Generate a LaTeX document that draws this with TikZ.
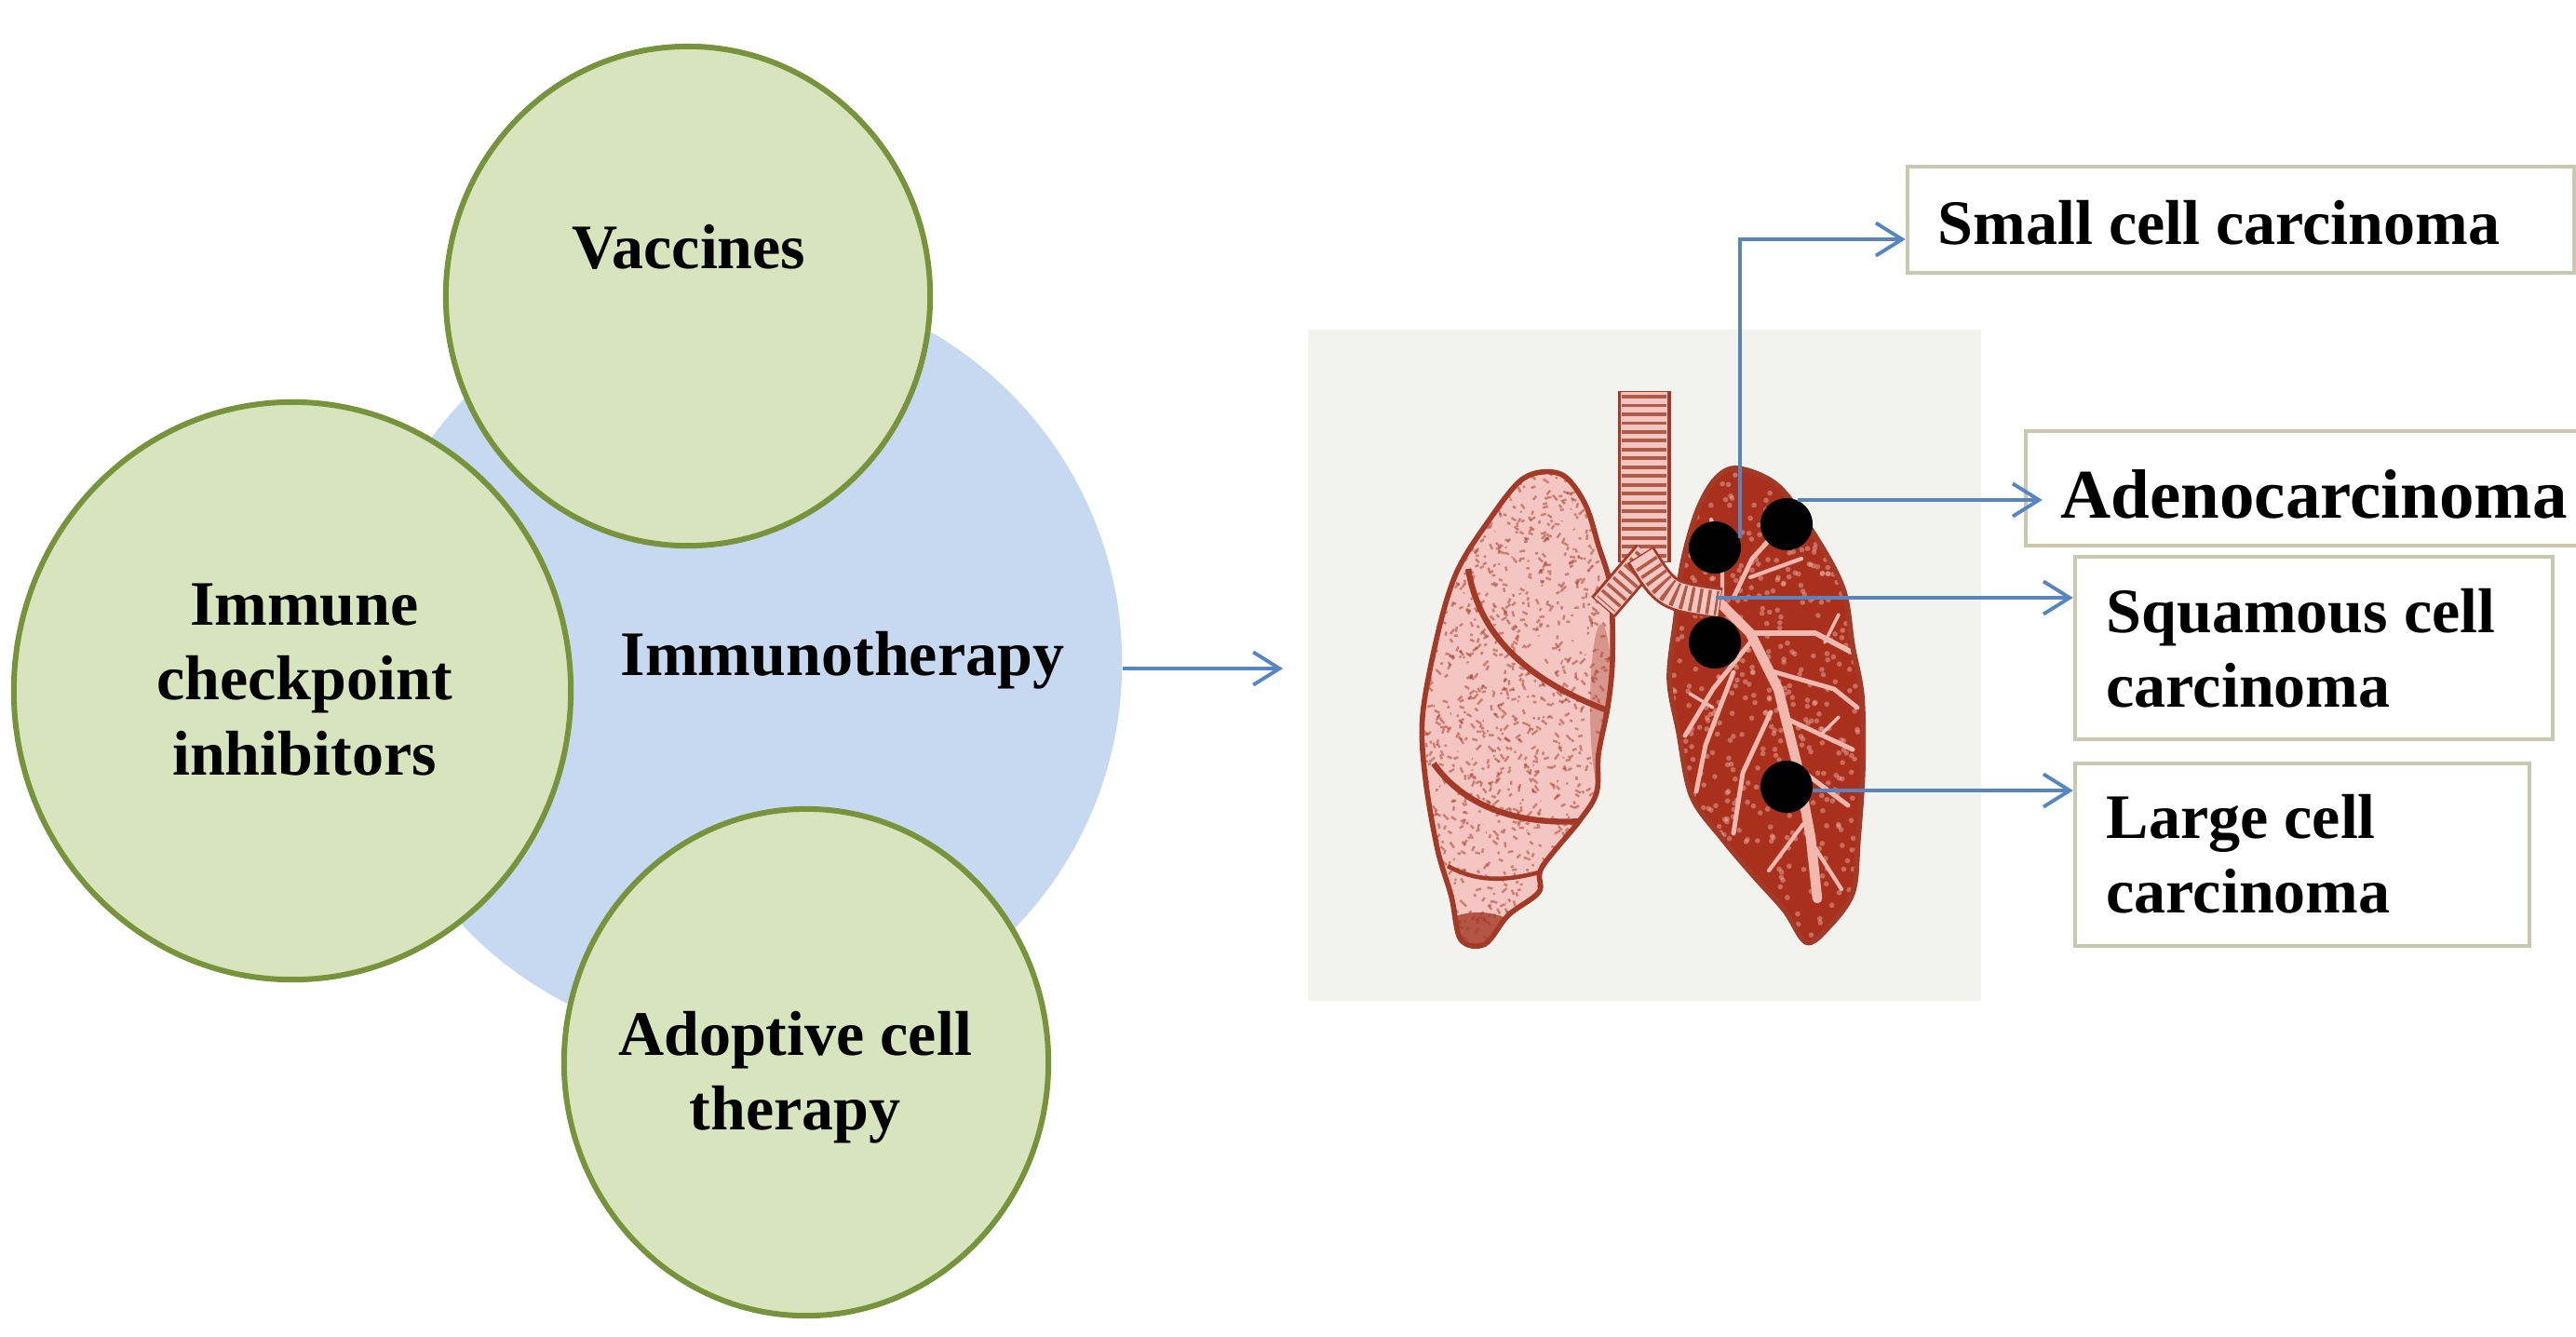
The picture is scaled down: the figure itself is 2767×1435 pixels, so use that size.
\documentclass[tikz,border=0pt]{standalone}
\usepackage{fontspec}
\setmainfont{Liberation Serif}
\usetikzlibrary{shapes.geometric,arrows.meta}
\definecolor{greenfill}{HTML}{D7E4BD}
\definecolor{greenline}{HTML}{77933C}
\definecolor{bluefill}{HTML}{C6D9F1}
\definecolor{connblue}{HTML}{5586C2}
\definecolor{boxline}{HTML}{C8C8B0}
\definecolor{panelbg}{HTML}{F2F2EE}
\definecolor{lungpink}{HTML}{F4C6C1}
\definecolor{lungdark}{HTML}{A33A28}
\definecolor{lungred}{HTML}{A8301C}
\definecolor{branchpink}{HTML}{F1B8AE}
\definecolor{ringdark}{HTML}{B05A48}
\tikzset{
  greenc/.style={ellipse, draw=greenline, fill=greenfill, line width=1.7pt, inner sep=0pt},
  mainlbl/.style={font=\fontsize{19.35}{22.8}\selectfont\bfseries, inner sep=0pt, align=center},
  boxlbl/.style={font=\fontsize{19.35}{22.8}\selectfont\bfseries, inner sep=0pt, align=left},
  tbox/.style={draw=boxline, line width=1.2pt, fill=white, inner sep=0pt},
  tumor/.style={circle, fill=black, minimum size=0.56cm, inner sep=0pt},
  conn/.style={draw=connblue, line width=1.1pt, -{Straight Barb[length=8pt,width=10pt]}},
  lungline/.style={draw=lungdark, line width=1.6pt},
}
\begin{document}
\begin{tikzpicture}[x=0.01cm,y=-0.01cm]
\useasboundingbox (0,0) rectangle (2767,1435);
\fill[white] (0,0) rectangle (2767,1435);

% ---------- left part ----------
\node[circle, fill=bluefill, minimum size=8.2cm, inner sep=0pt] (blue) at (795,712) {};
\node[greenc, minimum width=5.2cm, minimum height=5.36cm] (vac) at (739,318) {};
\node[greenc, minimum width=5.98cm, minimum height=6.2cm] (ici) at (314,742) {};
\node[greenc, minimum width=5.2cm, minimum height=5.44cm] (act) at (866,1141) {};

\node[mainlbl] (vacT) at (740,265) {Vaccines};
\node[mainlbl] (iciT) at (327,730) {Immune\\checkpoint\\inhibitors};
\node[mainlbl] (actT) at (854,1157) {Adoptive cell\\therapy};
\node[mainlbl, anchor=base] (immT) at (905,725) {Immunotherapy};

\coordinate (arrowend) at (1378,718);
\draw[conn] (blue.east |- arrowend) -- (arrowend);

% ---------- lung picture ----------
\node[fill=panelbg, minimum width=7.23cm, minimum height=7.21cm, inner sep=0pt] (panel) at (1766.5,714.5) {};

\def\lungL{plot[smooth cycle, tension=0.55] coordinates {(1636,514) (1676,509) (1702,540) (1717,586) (1730,632) (1732,708) (1727,759) (1717,810) (1715,851) (1697,881) (1656,932) (1653,958) (1620,983) (1595,1014) (1569,1009) (1559,963) (1544,912) (1531,836) (1528,769) (1544,682) (1564,616) (1595,565)}}
\def\lungR{plot[smooth cycle, tension=0.55] coordinates {(1867,503) (1910,522) (1950,576) (1980,633) (1990,694) (2000,748) (2001,825) (1996,901) (1990,959) (1963,997) (1940,1012) (1917,978) (1883,940) (1850,901) (1817,855) (1803,786) (1793,729) (1800,664) (1807,606) (1823,549) (1843,514)}}

% left lung
\fill[lungpink] \lungL;
\begin{scope}
  \clip \lungL;
  \pgfmathsetseed{7}
  \foreach \i in {1,...,1300}{
    \pgfmathsetmacro\px{1520+215*rnd}
    \pgfmathsetmacro\py{500+520*rnd}
    \pgfmathsetmacro\dx{6*rand}
    \pgfmathsetmacro\dy{6*rand}
    \draw[lungdark, opacity=0.5, line width=0.7pt] (\px,\py) -- ++(\dx,\dy);
  }
  \fill[lungdark, opacity=0.8] (1588,1005) ellipse [x radius=0.45cm, y radius=0.25cm];
  \fill[lungdark, opacity=0.35] (1720,760) ellipse [x radius=0.12cm, y radius=0.9cm];
  \draw[lungdark, line width=1.8pt] (1577,611) .. controls (1590,690) and (1650,735) .. (1732,765);
  \draw[lungdark, line width=1.8pt] (1540,820) .. controls (1575,870) and (1640,890) .. (1720,880);
  \draw[lungdark, line width=1.3pt] (1555,930) .. controls (1590,950) and (1625,945) .. (1660,935);
\end{scope}
\draw[lungline] \lungL;

% right lung
\fill[lungred] \lungR;
\begin{scope}
  \clip \lungR;
  \pgfmathsetseed{11}
  \foreach \i in {1,...,600}{
    \pgfmathsetmacro\px{1790+215*rnd}
    \pgfmathsetmacro\py{500+520*rnd}
    \fill[branchpink, opacity=0.45] (\px,\py) circle (0.8pt);
  }
  \begin{scope}[branchpink, line cap=round, line join=round]
    \draw[line width=3pt] (1845,645) -- (1880,680) -- (1910,740) -- (1930,820) -- (1945,900) -- (1952,965);
    \draw[line width=1.6pt] (1880,680) -- (1950,680) -- (1988,700);
    \draw[line width=1.4pt] (1900,720) -- (1970,740) -- (1995,760);
    \draw[line width=1.4pt] (1915,770) -- (1990,805);
    \draw[line width=1.4pt] (1925,820) -- (1985,865);
    \draw[line width=1.4pt] (1880,690) -- (1840,740) -- (1810,790);
    \draw[line width=1.4pt] (1862,722) -- (1832,800) -- (1822,850);
    \draw[line width=1.4pt] (1902,765) -- (1872,830) -- (1862,895);
    \draw[line width=1.2pt] (1937,885) -- (1900,935);
    \draw[line width=1.2pt] (1946,905) -- (1978,955);
    \draw[line width=1.4pt] (1862,642) -- (1882,600) -- (1905,575);
    \draw[line width=1.2pt] (1880,620) -- (1935,600);
    \draw[line width=1.2pt] (1850,640) -- (1850,600) -- (1838,558);
    \draw[line width=1pt] (1960,690) -- (1975,660);
    \draw[line width=1pt] (1955,790) -- (1975,770);
    \draw[line width=1pt] (1840,760) -- (1815,745);
  \end{scope}
\end{scope}
\draw[lungline] \lungR;

% trachea and bronchi
\begin{scope}[line cap=butt]
  \draw[lungdark, line width=0.57cm] (1766,420) -- (1766,604);
  \draw[lungpink, line width=0.50cm] (1766,421) -- (1766,603);
  \draw[ringdark, line width=0.48cm, dash pattern=on 1.1pt off 1.6pt] (1766,424) -- (1766,600);
  \draw[lungdark, line width=0.34cm] (1770,596) -- (1722,652);
  \draw[lungpink, line width=0.28cm] (1770,596) -- (1723,651);
  \draw[ringdark, line width=0.26cm, dash pattern=on 1pt off 1.6pt] (1768,600) -- (1725,649);
  \draw[lungdark, line width=0.34cm] (1762,596) .. controls (1790,640) .. (1848,648);
  \draw[lungpink, line width=0.28cm] (1763,597) .. controls (1790,640) .. (1847,648);
  \draw[ringdark, line width=0.26cm, dash pattern=on 1pt off 1.6pt] (1768,604) .. controls (1792,640) .. (1845,648);
\end{scope}

% tumours
\node[tumor] (d1) at (1842,588) {};
\node[tumor] (d2) at (1919,563) {};
\node[tumor] (d3) at (1842,690) {};
\node[tumor] (d4) at (1919,845) {};

% ---------- right boxes ----------
\node[tbox, minimum width=7.16cm, minimum height=1.14cm] (sbox) at (2407,236) {};
\node[tbox, minimum width=5.99cm, minimum height=1.23cm] (abox) at (2475.5,524.5) {};
\node[tbox, minimum width=5.13cm, minimum height=1.96cm] (qbox) at (2485.5,696) {};
\node[tbox, minimum width=4.88cm, minimum height=1.96cm] (lbox) at (2473,918) {};

\node[boxlbl, anchor=base west] (sT) at (2081,262) {Small cell carcinoma};
\node[boxlbl, anchor=base west, font=\fontsize{21.3}{25}\selectfont\bfseries] (aT) at (2213,556) {Adenocarcinoma};
\node[boxlbl, anchor=west] (qT) at (2262,696) {Squamous cell\\carcinoma};
\node[boxlbl, anchor=west] (lT) at (2262,917) {Large cell\\carcinoma};

% ---------- connectors ----------
\coordinate (sqs) at (1843,642);
\draw[conn] (d1.20) |- ([yshift=-0.21cm]sbox.west);
\draw[conn, shorten >=-0.2cm] (d2.65) -- (d2.65 -| abox.west);
\draw[conn] (sqs) -- (sqs -| qbox.west);
\draw[conn] (d4.-8) -- (d4.-8 -| lbox.west);
\end{tikzpicture}
\end{document}
